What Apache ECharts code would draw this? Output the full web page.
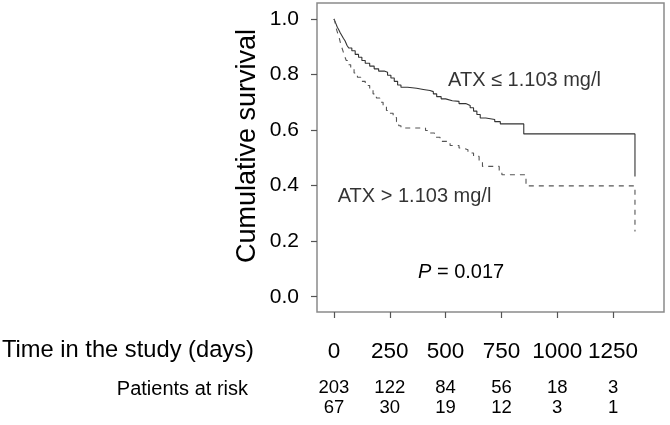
<!DOCTYPE html>
<html>
<head>
<meta charset="utf-8">
<script src="https://cdn.jsdelivr.net/npm/echarts@6/dist/echarts.min.js"></script>
<style>html,body{margin:0;padding:0;background:#fff;}#c{width:670px;height:425px;}</style>
</head>
<body>
<div id="c"></div>
<script>
// ---- data ----
var xTicks = [0, 250, 500, 750, 1000, 1250];
var yTicks = [0.0, 0.2, 0.4, 0.6, 0.8, 1.0];
// Kaplan-Meier steps: ATX <= 1.103 mg/l (solid)
var lowTime = [0, 5, 10, 15, 22, 28, 35, 42, 50, 58, 66, 80, 95, 110, 125, 140, 160, 180, 200, 225, 240, 255, 270, 285, 300, 330, 370, 400, 430, 445, 460, 480, 500, 530, 560, 590, 610, 625, 640, 655, 680, 720, 745, 850, 1348];
var lowSurv = [1.0, 0.99, 0.98, 0.97, 0.96, 0.95, 0.94, 0.93, 0.92, 0.905, 0.895, 0.885, 0.872, 0.862, 0.85, 0.84, 0.83, 0.82, 0.812, 0.808, 0.797, 0.787, 0.775, 0.762, 0.754, 0.75, 0.746, 0.742, 0.738, 0.73, 0.72, 0.712, 0.705, 0.703, 0.695, 0.688, 0.68, 0.668, 0.656, 0.643, 0.638, 0.63, 0.622, 0.586, 0.433];
// ATX > 1.103 mg/l (dashed)
var highTime = [0, 4, 8, 12, 18, 24, 30, 36, 42, 48, 55, 65, 75, 90, 105, 120, 140, 160, 175, 190, 205, 220, 235, 250, 265, 280, 290, 300, 410, 430, 450, 475, 520, 560, 580, 600, 625, 650, 665, 740, 752, 860, 1348];
var highSurv = [1.0, 0.99, 0.975, 0.96, 0.945, 0.93, 0.91, 0.895, 0.88, 0.865, 0.85, 0.835, 0.82, 0.805, 0.79, 0.775, 0.76, 0.745, 0.73, 0.715, 0.70, 0.685, 0.67, 0.66, 0.645, 0.63, 0.615, 0.607, 0.598, 0.589, 0.574, 0.559, 0.544, 0.535, 0.529, 0.517, 0.505, 0.487, 0.469, 0.452, 0.439, 0.399, 0.235];
var riskLow = [203, 122, 84, 56, 18, 3];
var riskHigh = [67, 30, 19, 12, 3, 1];
var labelLow = 'ATX \u2264 1.103 mg/l';
var labelHigh = 'ATX > 1.103 mg/l';
var labelLowPos = [511, 0.777];
var labelHighPos = [17, 0.36];

// ---- chart ----
var FONT = '"Liberation Sans", Arial, sans-serif';
function pairs(t, s) { return t.map(function (v, i) { return [v, s[i]]; }); }
function riskFmt(arr) { return function (v) { var i = xTicks.indexOf(Math.round(v)); return i >= 0 ? String(arr[i]) : ''; }; }

var chart = echarts.init(document.getElementById('c'), null, { renderer: 'canvas' });
var hiddenAxisBase = {
  type: 'value', min: -76, max: 1478, position: 'bottom', gridIndex: 0,
  axisLine: { show: false, onZero: false }, axisTick: { show: false }, splitLine: { show: false }
};
chart.setOption({
  animation: false,
  backgroundColor: '#fff',
  grid: { left: 317, right: 6, top: 3, bottom: 113, show: true, borderColor: '#8a8a8a', borderWidth: 1.5, backgroundColor: 'transparent', outerBoundsMode: 'none' },
  xAxis: [
    {
      type: 'value', min: -76, max: 1478, position: 'bottom',
      axisLine: { show: false, onZero: false },
      axisTick: { show: true, inside: false, length: 6, customValues: xTicks, lineStyle: { color: '#555', width: 1.2 } },
      axisLabel: { customValues: xTicks, margin: 28, fontSize: 22.5, fontFamily: FONT, color: '#000', formatter: function (v) { return String(v); } },
      splitLine: { show: false }
    },
    Object.assign({}, hiddenAxisBase, {
      offset: 58,
      axisLabel: { customValues: xTicks, margin: 8, fontSize: 18.5, fontFamily: FONT, color: '#000', formatter: riskFmt(riskLow) }
    }),
    Object.assign({}, hiddenAxisBase, {
      offset: 78,
      axisLabel: { customValues: xTicks, margin: 8, fontSize: 18.5, fontFamily: FONT, color: '#000', formatter: riskFmt(riskHigh) }
    })
  ],
  yAxis: {
    type: 'value', min: -0.055, max: 1.057,
    axisLine: { show: false, onZero: false },
    axisTick: { show: true, inside: false, length: 6, customValues: yTicks, lineStyle: { color: '#555', width: 1.2 } },
    axisLabel: { customValues: yTicks, margin: 18, fontSize: 21, fontFamily: FONT, color: '#000', formatter: function (v) { return v.toFixed(1); } },
    splitLine: { show: false }
  },
  series: [
    {
      type: 'line', step: 'end', symbol: 'none', data: pairs(lowTime, lowSurv),
      lineStyle: { color: '#333', width: 1.1, type: 'solid' }
    },
    {
      type: 'line', step: 'end', symbol: 'none', data: pairs(highTime, highSurv),
      lineStyle: { color: '#555', width: 1.1, type: [5, 5] }
    },
    {
      type: 'scatter', symbolSize: 0, silent: true,
      data: [
        { value: labelLowPos, label: { show: true, formatter: labelLow, position: 'right', distance: 0, fontSize: 20, fontFamily: FONT, color: '#000' } },
        { value: labelHighPos, label: { show: true, formatter: labelHigh, position: 'right', distance: 0, fontSize: 20, fontFamily: FONT, color: '#000' } }
      ]
    }
  ],
  graphic: [
    { type: 'text', left: 2, top: 338, style: { text: 'Time in the study (days)', fontSize: 23.7, fontFamily: FONT, fill: '#000' } },
    { type: 'text', x: 248, y: 146, rotation: Math.PI / 2, style: { text: 'Cumulative survival', fontSize: 27, fontFamily: FONT, fill: '#000', align: 'center', verticalAlign: 'middle' } },
    { type: 'text', x: 248, y: 389, style: { text: 'Patients at risk', fontSize: 20, fontFamily: FONT, fill: '#000', align: 'right', verticalAlign: 'middle' } },
    { type: 'text', x: 418, y: 272, style: { rich: { i: { fontStyle: 'italic', fontSize: 20, fontFamily: FONT, fill: '#000' }, n: { fontSize: 20, fontFamily: FONT, fill: '#000' } }, text: '{i|P}{n| = 0.017}', verticalAlign: 'middle' } }
  ]
});
</script>
</body>
</html>
